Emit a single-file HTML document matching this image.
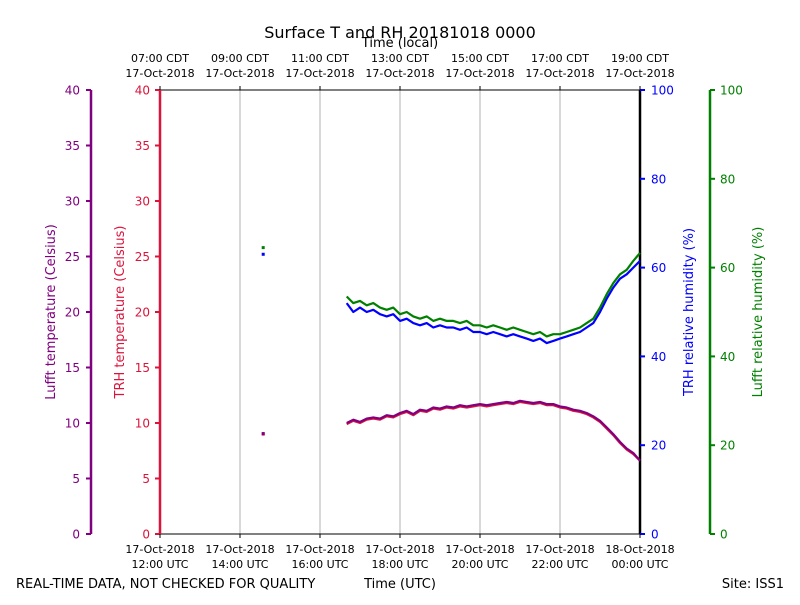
<!DOCTYPE html>
<html><head><meta charset="utf-8"><style>
body{margin:0;background:#fff}
svg{font-family:"DejaVu Sans","Liberation Sans",sans-serif}
</style></head><body>
<svg id="chart" width="800" height="600" xmlns="http://www.w3.org/2000/svg"></svg>
<script>
const times=[];for(let i=0;i<45;i++)times.push(4.6667+i*(7.3333/44));
const trhTemp=[9.9,10.2,10.0,10.3,10.4,10.3,10.6,10.5,10.8,11.0,10.7,11.1,11.0,11.3,11.2,11.4,11.3,11.5,11.4,11.5,11.6,11.5,11.6,11.7,11.8,11.7,11.9,11.8,11.7,11.8,11.6,11.6,11.4,11.3,11.1,11.0,10.8,10.5,10.1,9.5,8.9,8.2,7.6,7.2,6.6];
const lufftTemp=[10.0,10.3,10.1,10.4,10.5,10.4,10.7,10.6,10.9,11.1,10.8,11.2,11.1,11.4,11.3,11.5,11.4,11.6,11.5,11.6,11.7,11.6,11.7,11.8,11.9,11.8,12.0,11.9,11.8,11.9,11.7,11.7,11.5,11.4,11.2,11.1,10.9,10.6,10.2,9.6,9.0,8.3,7.7,7.3,6.6];
const trhRH=[52,50,51,50,50.5,49.5,49,49.5,48,48.5,47.5,47,47.5,46.5,47,46.5,46.5,46,46.5,45.5,45.5,45,45.5,45,44.5,45,44.5,44,43.5,44,43,43.5,44,44.5,45,45.5,46.5,47.5,50,53,55.5,57.5,58.5,60,61.5];
const lufftRH=[53.5,52,52.5,51.5,52,51,50.5,51,49.5,50,49,48.5,49,48,48.5,48,48,47.5,48,47,47,46.5,47,46.5,46,46.5,46,45.5,45,45.5,44.5,45,45,45.5,46,46.5,47.5,48.5,51,54,56.5,58.5,59.5,61.5,63.3];
const isoTime=[2.58];const isoTemp=[9.0];const isoTrhRH=[63.0];const isoLufftRH=[64.5];
const tempTicks=[0,5,10,15,20,25,30,35,40];
const rhTicks=[0,20,40,60,80,100];
const utcLabels=[["17-Oct-2018","12:00 UTC"],["17-Oct-2018","14:00 UTC"],["17-Oct-2018","16:00 UTC"],["17-Oct-2018","18:00 UTC"],["17-Oct-2018","20:00 UTC"],["17-Oct-2018","22:00 UTC"],["18-Oct-2018","00:00 UTC"]];
const localLabels=[["07:00 CDT","17-Oct-2018"],["09:00 CDT","17-Oct-2018"],["11:00 CDT","17-Oct-2018"],["13:00 CDT","17-Oct-2018"],["15:00 CDT","17-Oct-2018"],["17:00 CDT","17-Oct-2018"],["19:00 CDT","17-Oct-2018"]];

const X0=160,X1=640,Y0=534,Y1=90;
const sx=h=>X0+h/12*(X1-X0);
const sT=t=>Y0-t/40*(Y0-Y1);
const sR=r=>Y0-r/100*(Y0-Y1);
const svg=document.getElementById('chart');const NS="http://www.w3.org/2000/svg";
function el(tag,attrs,parent,text){const e=document.createElementNS(NS,tag);for(const k in attrs)e.setAttribute(k,attrs[k]);if(text!==undefined)e.textContent=text;(parent||svg).appendChild(e);return e;}
function txt(x,y,s,opt,name){const t=el('text',Object.assign({x:x,y:y,'font-size':12,'text-anchor':'middle'},opt||{}),svg,s);return t;}

// grid
for(let i=1;i<6;i++){const g=el('line',{x1:sx(i*2),x2:sx(i*2),y1:Y1,y2:Y0,stroke:'#b0b0b0','stroke-width':1});}
// frame
const fr=el('rect',{x:X0,y:Y1,width:X1-X0,height:Y0-Y1,fill:'none',stroke:'#000','stroke-width':1});

// axes lines
function axisLine(x,color,name){const l=el('line',{x1:x,x2:x,y1:Y1,y2:Y0,stroke:color,'stroke-width':2.5});}
axisLine(91,'#800080','lufft-temp-axis');axisLine(160,'#dc143c','trh-temp-axis');axisLine(640,'#000','trh-rh-axis-line');axisLine(710,'#008000','lufft-rh-axis');
tempTicks.forEach(t=>{
 const y=sT(t);
 el('line',{x1:86,x2:91,y1:y,y2:y,stroke:'#800080','stroke-width':2});
 txt(80,y+4.5,t,{'text-anchor':'end',fill:'#800080'},'lufft-temp-tick-label');
 el('line',{x1:155,x2:160,y1:y,y2:y,stroke:'#dc143c','stroke-width':2});
 txt(150,y+4.5,t,{'text-anchor':'end',fill:'#dc143c'},'trh-temp-tick-label');
});
rhTicks.forEach(r=>{
 const y=sR(r);
 el('line',{x1:640,x2:645,y1:y,y2:y,stroke:'#0000ff','stroke-width':2});
 txt(651,y+4.5,r,{'text-anchor':'start',fill:'#0000ff'},'trh-rh-tick-label');
 el('line',{x1:710,x2:715,y1:y,y2:y,stroke:'#008000','stroke-width':2});
 txt(720,y+4.5,r,{'text-anchor':'start',fill:'#008000'},'lufft-rh-tick-label');
});
utcLabels.forEach((l,i)=>{const x=sx(i*2);el('line',{x1:x,x2:x,y1:Y0,y2:Y0+4,stroke:'#000'});
 txt(x,553,l[0],{'font-size':11},'x-tick-date');txt(x,568,l[1],{'font-size':11},'x-tick-time');});
localLabels.forEach((l,i)=>{const x=sx(i*2);el('line',{x1:x,x2:x,y1:Y1-4,y2:Y1,stroke:'#000'});
 txt(x,62,l[0],{'font-size':11},'top-tick-time');txt(x,77,l[1],{'font-size':11},'top-tick-date');});

// series
function line(xs,ys,sy,color,name){const p=xs.map((h,i)=>sx(h).toFixed(1)+','+sy(ys[i]).toFixed(1)).join(' ');const e=el('polyline',{points:p,fill:'none',stroke:color,'stroke-width':2.2,'stroke-linejoin':'round'});}
line(times,trhRH,sR,'#0000ff','trh-rh-line');
line(times,lufftRH,sR,'#008000','lufft-rh-line');
line(times,trhTemp,sT,'#dc143c','trh-temp-line');
line(times,lufftTemp,sT,'#800080','lufft-temp-line');
function pt(xs,ys,sy,color,name){xs.forEach((h,i)=>{const e=el('rect',{x:sx(h)-1.5,y:sy(ys[i])-1.5,width:3,height:3,fill:color});});}
pt(isoTime,isoLufftRH,sR,'#008000','lufft-rh-point');pt(isoTime,isoTrhRH,sR,'#0000ff','trh-rh-point');
pt(isoTime,isoTemp,sT,'#dc143c','trh-temp-point');pt(isoTime,isoTemp.map(v=>v+0.05),sT,'#800080','lufft-temp-point');

// titles
txt(400,38,'Surface T and RH 20181018 0000',{'font-size':16},'chart-title');
txt(400,47,'Time (local)',{'font-size':13},'top-axis-title');
txt(400,588,'Time (UTC)',{'font-size':13},'x-axis-title');
txt(16,588,'REAL-TIME DATA, NOT CHECKED FOR QUALITY',{'font-size':13,'text-anchor':'start'},'quality-note');
txt(784,588,'Site: ISS1',{'font-size':13,'text-anchor':'end'},'site-label');
txt(0,0,'Lufft temperature (Celsius)',{'font-size':13,fill:'#800080',transform:'translate(55,312) rotate(-90)'},'lufft-temp-axis-title');
txt(0,0,'TRH temperature (Celsius)',{'font-size':13,fill:'#dc143c',transform:'translate(124,312) rotate(-90)'},'trh-temp-axis-title');
txt(0,0,'TRH relative humidity (%)',{'font-size':13,fill:'#0000ff',transform:'translate(693,312) rotate(-90)'},'trh-rh-axis-title');
txt(0,0,'Lufft relative humidity (%)',{'font-size':13,fill:'#008000',transform:'translate(762,312) rotate(-90)'},'lufft-rh-axis-title');
</script>
</body></html>
